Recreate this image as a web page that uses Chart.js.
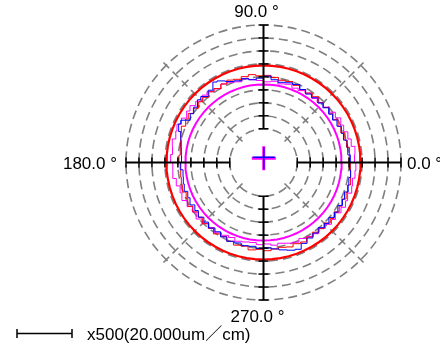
<!DOCTYPE html>
<html>
<head>
<meta charset="utf-8">
<script src="https://cdn.jsdelivr.net/npm/chart.js@4.4.1/dist/chart.umd.min.js"></script>
<style>
html, body { margin: 0; padding: 0; background: #fff; }
#wrap { width: 440px; height: 346px; position: relative; }
</style>
</head>
<body>
<div id="wrap"><canvas id="roundChart"></canvas></div>
<script>
// angle of each sample (deg, counter-clockwise from 0.0)
const angles = [0, 5, 10, 15, 20, 25, 30, 35, 40, 45, 50, 55, 60, 65, 70, 75, 80, 85,
  90, 95, 100, 105, 110, 115, 120, 125, 130, 135, 140, 145, 150, 155, 160, 165, 170, 175,
  180, 185, 190, 195, 200, 205, 210, 215, 220, 225, 230, 235, 240, 245, 250, 255, 260, 265,
  270, 275, 280, 285, 290, 295, 300, 305, 310, 315, 320, 325, 330, 335, 340, 345, 350, 355];

// profile readings (um above the inner offset circle)
const blueDev = [20.2, 20.6, 20.0, 20.4, 19.8, 20.1, 19.7, 19.5, 19.8, 19.4, 19.6, 19.2, 19.5, 20.2, 19.7, 19.0, 19.4, 20.4,
  19.5, 19.0, 19.8, 19.6, 20.2, 21.7, 22.8, 21.0, 20.2, 21.2, 20.2, 19.8, 19.6, 22.2, 21.8, 20.0, 19.2, 18.8,
  18.6, 19.2, 18.5, 19.0, 19.5, 19.2, 19.7, 19.3, 19.8, 19.5, 20.0, 19.6, 20.1, 20.5, 20.0, 20.2, 19.8, 20.3,
  19.9, 20.4, 21.2, 22.0, 22.6, 21.4, 20.6, 20.2, 19.8, 20.2, 19.9, 20.4, 20.1, 20.6, 20.2, 20.8, 20.4, 20.7];
const redDev = [20.5, 20.2, 20.7, 20.1, 20.4, 19.9, 20.2, 19.7, 20.0, 19.6, 20.1, 19.7, 19.4, 19.8, 20.2, 19.8, 20.3, 20.7,
  20.4, 21.0, 20.6, 20.2, 20.8, 20.4, 19.9, 20.3, 19.8, 20.1, 19.6, 20.0, 20.5, 20.1, 20.7, 20.0, 19.5, 19.2,
  19.6, 19.0, 19.4, 19.8, 20.3, 19.9, 20.7, 20.2, 19.8, 20.4, 20.1, 20.6, 20.0, 20.5, 20.9, 20.4, 21.2, 20.6,
  21.0, 20.5, 20.2, 20.7, 20.3, 20.8, 20.2, 19.8, 20.3, 20.0, 20.6, 20.2, 20.7, 20.3, 20.9, 20.5, 21.1, 20.7];
const pinkDev = [22.6, 22.2, 22.8, 22.0, 21.6, 21.1, 21.4, 20.8, 20.2, 19.7, 19.2, 19.6, 19.0, 18.6, 19.1, 18.4, 18.8, 18.2,
  18.6, 19.1, 19.8, 19.2, 19.9, 20.4, 19.8, 20.3, 20.9, 20.4, 21.1, 21.6, 21.2, 21.9, 22.5, 22.0, 22.7, 22.2,
  22.8, 22.1, 22.5, 21.8, 21.2, 21.7, 21.0, 20.4, 20.9, 20.2, 19.7, 20.1, 19.4, 18.9, 19.3, 18.7, 18.3, 18.8,
  18.4, 19.0, 18.6, 19.2, 19.7, 19.3, 19.9, 20.5, 20.1, 20.7, 21.2, 20.8, 21.5, 21.9, 21.5, 22.2, 21.8, 22.4];

// fitted circles and centre
const fitRed = 24.4;
const fitMagenta = 17.1;
const centreShift = [0.1, 1.6];

const radialTicks = [0, 5, 10, 15, 20, 25, 30, 35, 40];
const axisLabels = ["0.0 °", "90.0 °", "180.0 °", "270.0 °"];
const scaleText = "x500(20.000um／cm)";

const baseR = 13;   // inner offset radius
const span = 53;    // baseR + 40

function polar(v, deg) {
  const r = baseR + v, a = deg * Math.PI / 180;
  return { x: r * Math.cos(a), y: r * Math.sin(a) };
}
function trace(vals) {
  const pts = vals.map((v, i) => polar(v, angles[i]));
  pts.push(pts[0]);
  return pts;
}
function circle(v) {
  return trace(angles.map(() => v));
}

const FONT = '17px "Liberation Sans", Arial, "Noto Sans CJK JP", sans-serif';

const polarFrame = {
  id: 'polarFrame',
  beforeDatasetsDraw(chart) {
    const { ctx, scales: { x, y } } = chart;
    const cx = x.getPixelForValue(0), cy = y.getPixelForValue(0);
    const k = x.getPixelForValue(1) - cx;
    ctx.save();
    ctx.strokeStyle = '#7f7f7f';
    ctx.lineWidth = 1.6;
    radialTicks.forEach(t => {
      const r = (baseR + t) * k;
      ctx.setLineDash([9, 5]);
      ctx.beginPath();
      ctx.arc(cx, cy, r, 0, Math.PI * 2);
      ctx.stroke();
      ctx.setLineDash([]);
      // little cross marks on the diagonals
      [45, 135, 225, 315].forEach(d => {
        const a = d * Math.PI / 180, c = Math.cos(a), s = -Math.sin(a);
        const px = cx + r * c, py = cy + r * s;
        ctx.beginPath();
        ctx.moveTo(px - 4 * c, py - 4 * s);
        ctx.lineTo(px + 4 * c, py + 4 * s);
        ctx.stroke();
      });
    });
    ctx.restore();
  },
  afterDatasetsDraw(chart) {
    const { ctx, scales: { x, y }, chartArea } = chart;
    const cx = x.getPixelForValue(0), cy = y.getPixelForValue(0);
    const k = x.getPixelForValue(1) - cx;
    const r0 = baseR * k, r1 = (baseR + radialTicks[radialTicks.length - 1]) * k;
    ctx.save();
    ctx.strokeStyle = '#000';
    [0, 90, 180, 270].forEach(d => {
      const a = d * Math.PI / 180, c = Math.cos(a), s = -Math.sin(a);
      ctx.lineWidth = 2;
      ctx.beginPath();
      ctx.moveTo(cx + r0 * c, cy + r0 * s);
      ctx.lineTo(cx + r1 * c, cy + r1 * s);
      ctx.stroke();
      ctx.lineWidth = 1.5;
      radialTicks.forEach(t => {
        const r = (baseR + t) * k, px = cx + r * c, py = cy + r * s;
        ctx.beginPath();
        ctx.moveTo(px - 5 * s, py + 5 * c);
        ctx.lineTo(px + 5 * s, py - 5 * c);
        ctx.stroke();
      });
    });

    // centre mark
    const mx = x.getPixelForValue(centreShift[0]), my = y.getPixelForValue(centreShift[1]);
    ctx.strokeStyle = '#ff00ff';
    ctx.lineWidth = 3;
    ctx.beginPath();
    ctx.moveTo(mx - 12, my); ctx.lineTo(mx + 12, my);
    ctx.moveTo(mx, my - 12); ctx.lineTo(mx, my + 12);
    ctx.stroke();
    ctx.strokeStyle = '#0000ff';
    ctx.lineWidth = 1.5;
    ctx.beginPath();
    ctx.moveTo(mx - 11, my - 1); ctx.lineTo(mx + 11, my - 1);
    ctx.moveTo(mx, my - 11); ctx.lineTo(mx, my + 11);
    ctx.stroke();

    // angle labels
    ctx.fillStyle = '#000';
    ctx.font = FONT;
    ctx.textBaseline = 'alphabetic';
    ctx.textAlign = 'left';
    ctx.fillText(axisLabels[0], cx + r1 + 6, cy + 6.5);
    ctx.textAlign = 'center';
    ctx.fillText(axisLabels[1], cx - 7, chartArea.top - 8);
    ctx.textAlign = 'right';
    ctx.fillText(axisLabels[2], cx - r1 - 9, cy + 6.5);
    ctx.textAlign = 'center';
    ctx.fillText(axisLabels[3], cx - 6, chartArea.bottom + 22);

    // magnification bar
    ctx.lineWidth = 1.5;
    ctx.strokeStyle = '#000';
    ctx.beginPath();
    ctx.moveTo(17, 333.5); ctx.lineTo(72, 333.5);
    ctx.moveTo(17, 329); ctx.lineTo(17, 338);
    ctx.moveTo(72, 329); ctx.lineTo(72, 338);
    ctx.stroke();
    ctx.textAlign = 'left';
    ctx.fillText(scaleText, 87, 340);
    ctx.restore();
  }
};

const lineDs = (data, color, width, stepped) => ({
  data: data,
  showLine: true,
  borderColor: color,
  borderWidth: width,
  pointRadius: 0,
  stepped: stepped,
  tension: 0,
  fill: false
});

new Chart(document.getElementById('roundChart'), {
  type: 'scatter',
  data: {
    datasets: [
      lineDs(trace(blueDev), '#0000ff', 1, true),
      lineDs(trace(redDev), '#ff0000', 1, true),
      lineDs(trace(pinkDev), '#ff00ff', 1, true),
      lineDs(circle(fitRed), '#ff0000', 2.2, false),
      lineDs(circle(fitMagenta), '#ff00ff', 2, false)
    ]
  },
  options: {
    responsive: true,
    maintainAspectRatio: false,
    animation: false,
    events: [],
    layout: { padding: { left: 126, right: 39, top: 25, bottom: 46 } },
    scales: {
      x: { type: 'linear', min: -span, max: span, display: false },
      y: { type: 'linear', min: -span, max: span, display: false }
    },
    plugins: { legend: { display: false }, tooltip: { enabled: false } }
  },
  plugins: [polarFrame]
});
</script>
</body>
</html>
